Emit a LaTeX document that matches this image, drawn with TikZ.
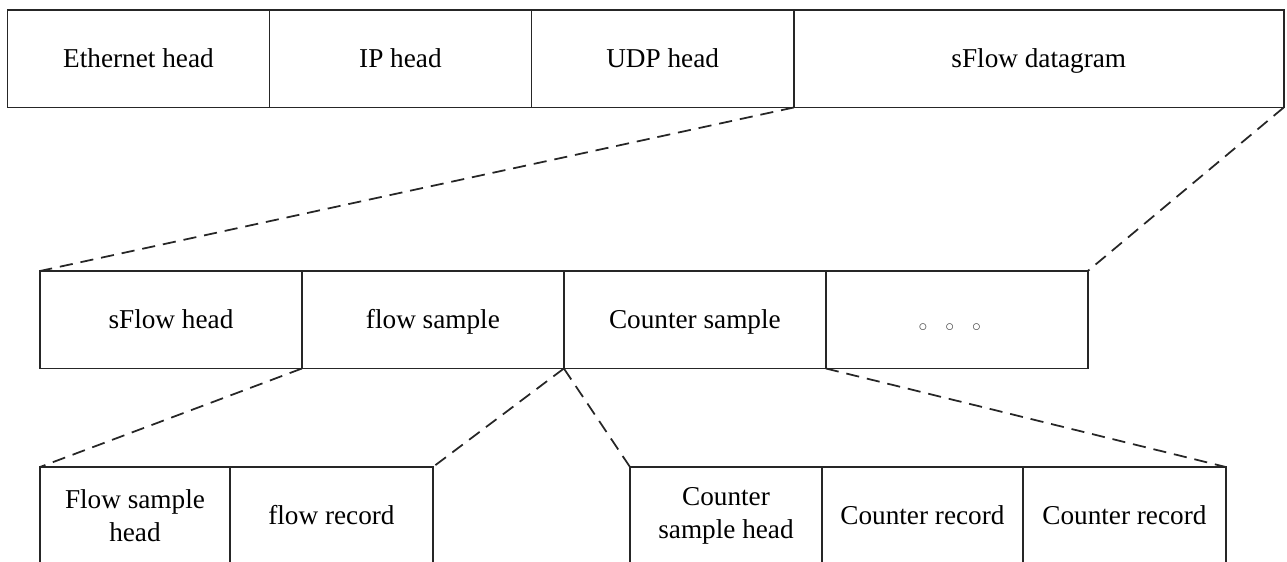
\documentclass[tikz,border=0pt]{standalone}
\usepackage{fontspec}
\setmainfont{Liberation Serif}
\usetikzlibrary{positioning}
\tikzset{
  field/.style={draw=black!85, line width=0.9pt, rectangle, outer sep=0pt, inner sep=0pt,
    minimum height=1.95cm, align=center, font=\fontsize{15.5}{18.5}\selectfont},
  single/.style={field, text height=10.3pt, text depth=0pt},
  link/.style={draw=black!85, line width=1pt, dash pattern=on 7.5pt off 4.5pt}
}
\begin{document}
\begin{tikzpicture}[x=0.02cm, y=-0.02cm]
  \useasboundingbox (0,0) rectangle (1287,561);
  \clip (0,0) rectangle (1287,561);
  % packet
  \node[single, minimum width=5.24cm, anchor=north west] (eth) at (7.5,10) {Ethernet head};
  \node[single, minimum width=5.24cm, right=0pt of eth] (ip) {IP head};
  \node[single, minimum width=5.25cm, right=0pt of ip] (udp) {UDP head};
  \node[single, minimum width=9.8cm, right=0pt of udp] (dgram) {sFlow datagram};
  % datagram
  \node[single, minimum width=5.24cm, anchor=north west] (shead) at (40,271) {sFlow head};
  \node[single, minimum width=5.24cm, right=0pt of shead] (fsample) {flow sample};
  \node[single, minimum width=5.24cm, right=0pt of fsample] (csample) {Counter sample};
  \node[field, minimum width=5.24cm, right=0pt of csample] (more)
    {\hspace{-0.28cm}\raisebox{-13pt}{\fontsize{10}{10}\selectfont\color{black!70}$\circ$\hspace{0.36cm}$\circ$\hspace{0.36cm}$\circ$}};
  % samples
  \node[field, minimum width=3.8cm, anchor=north west] (fshead) at (40,467) {Flow sample\\head};
  \node[single, minimum width=4.06cm, right=0pt of fshead] (frecord) {flow record};
  \node[field, minimum width=3.84cm, anchor=north west] (cshead) at (630,467) {Counter\\sample head};
  \node[single, minimum width=4.02cm, right=0pt of cshead] (crecA) {Counter record};
  \node[single, minimum width=4.06cm, right=0pt of crecA] (crecB) {Counter record};
  % zoom lines
  \draw[link] (udp.south east) -- (shead.north west);
  \draw[link] (dgram.south east) -- (more.north east);
  \draw[link] (shead.south east) -- (fshead.north west);
  \draw[link] (fsample.south east) -- (frecord.north east);
  \draw[link] (fsample.south east) -- (cshead.north west);
  \draw[link] (csample.south east) -- (crecB.north east);
\end{tikzpicture}
\end{document}
